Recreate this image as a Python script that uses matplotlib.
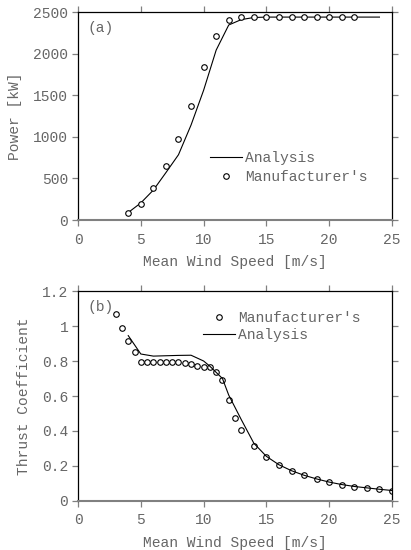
import matplotlib
matplotlib.use('Agg')
import matplotlib.pyplot as plt

# power curve (a)
ws_mfr_p = [4, 5, 6, 7, 8, 9, 10, 11, 12, 13, 14, 15, 16, 17, 18, 19, 20, 21, 22]
power_mfr = [85, 192, 388, 655, 978, 1372, 1834, 2215, 2400, 2436, 2444,
             2445, 2445, 2445, 2445, 2445, 2445, 2445, 2445]
ws_ana_p = [4, 5, 6, 7, 8, 9, 10, 11, 12, 13, 14, 15, 24]
power_ana = [90, 205, 360, 570, 785, 1142, 1560, 2043, 2345, 2410, 2435, 2440, 2440]

# thrust coefficient (b)
ws_mfr_t = [3, 3.5, 4, 4.5, 5, 5.5, 6, 6.5, 7, 7.5, 8, 8.5, 9, 9.5, 10, 10.5,
            11, 11.5, 12, 12.5, 13, 14, 15, 16, 17, 18, 19, 20, 21, 22, 23, 24, 25]
ct_mfr = [1.067, 0.987, 0.916, 0.853, 0.796, 0.792, 0.792, 0.792, 0.792, 0.792,
          0.792, 0.788, 0.781, 0.771, 0.766, 0.766, 0.739, 0.693, 0.579, 0.476,
          0.408, 0.312, 0.250, 0.206, 0.171, 0.147, 0.126, 0.107, 0.093, 0.082,
          0.074, 0.067, 0.059]
ws_ana_t = [4, 5, 6, 7, 8, 9, 10, 10.5, 11, 11.5, 12, 13, 14, 15, 16, 17, 18,
            19, 20, 21, 22, 23, 24, 25]
ct_ana = [0.945, 0.84, 0.828, 0.83, 0.832, 0.833, 0.80, 0.77, 0.735, 0.70,
          0.605, 0.465, 0.33, 0.255, 0.207, 0.173, 0.147, 0.126, 0.108, 0.094,
          0.083, 0.075, 0.067, 0.06]

plt.rcParams['font.family'] = ['Liberation Mono', 'DejaVu Sans Mono']
plt.rcParams['font.size'] = 10.5
txt = '#666666'
grey = '#808080'

fig = plt.figure(figsize=(4.11, 5.5), dpi=100)
ax1 = fig.add_axes([0.1898, 0.600, 0.764, 0.378])
ax2 = fig.add_axes([0.1898, 0.0891, 0.764, 0.3818])


def style(ax):
    for s in ['left', 'right', 'top']:
        ax.spines[s].set_color('black')
        ax.spines[s].set_linewidth(0.9)
    ax.spines['bottom'].set_color(grey)
    ax.spines['bottom'].set_linewidth(1.5)
    ax.tick_params(direction='out', length=4, width=0.9, colors=grey,
                   labelcolor=txt, top=True, right=True, pad=3)
    ax.tick_params(axis='x', pad=5)
    ax.set_xlim(0, 25)
    ax.set_xticks([0, 5, 10, 15, 20, 25])
    ax.set_xlabel('Mean Wind Speed [m/s]', color=txt, labelpad=6)


mk = dict(marker='o', ms=4, mfc='white', mec='black', mew=0.8, ls='none')

# (a) power
ax1.plot(ws_ana_p, power_ana, color='black', lw=0.8, label='Analysis')
ax1.plot(ws_mfr_p, power_mfr, label="Manufacturer's", **mk)
ax1.set_ylim(0, 2500)
ax1.set_yticks([0, 500, 1000, 1500, 2000, 2500])
ax1.set_ylabel('Power [kW]', color=txt, labelpad=8)
style(ax1)
ax1.text(0.03, 0.955, '(a)', transform=ax1.transAxes, color=txt, va='top')
leg = ax1.legend(loc='upper left', bbox_to_anchor=(0.42, 0.33), frameon=False,
                 handlelength=2.2, handletextpad=0.2, borderpad=0,
                 borderaxespad=0, labelspacing=0.35, numpoints=1)
for t in leg.get_texts():
    t.set_color(txt)

# (b) thrust coefficient
ax2.plot(ws_mfr_t, ct_mfr, label="Manufacturer's", **mk)
ax2.plot(ws_ana_t, ct_ana, color='black', lw=0.8, label='Analysis')
ax2.set_ylim(0, 1.2)
ax2.set_yticks([0, 0.2, 0.4, 0.6, 0.8, 1.0, 1.2])
ax2.set_yticklabels(['0', '0.2', '0.4', '0.6', '0.8', '1', '1.2'])
ax2.set_ylabel('Thrust Coefficient', color=txt, labelpad=8)
style(ax2)
ax2.text(0.03, 0.955, '(b)', transform=ax2.transAxes, color=txt, va='top')
leg = ax2.legend(loc='upper left', bbox_to_anchor=(0.398, 0.905), frameon=False,
                 handlelength=2.2, handletextpad=0.2, borderpad=0,
                 borderaxespad=0, labelspacing=0.2, numpoints=1)
for t in leg.get_texts():
    t.set_color(txt)

plt.savefig('out.png', dpi=100)
